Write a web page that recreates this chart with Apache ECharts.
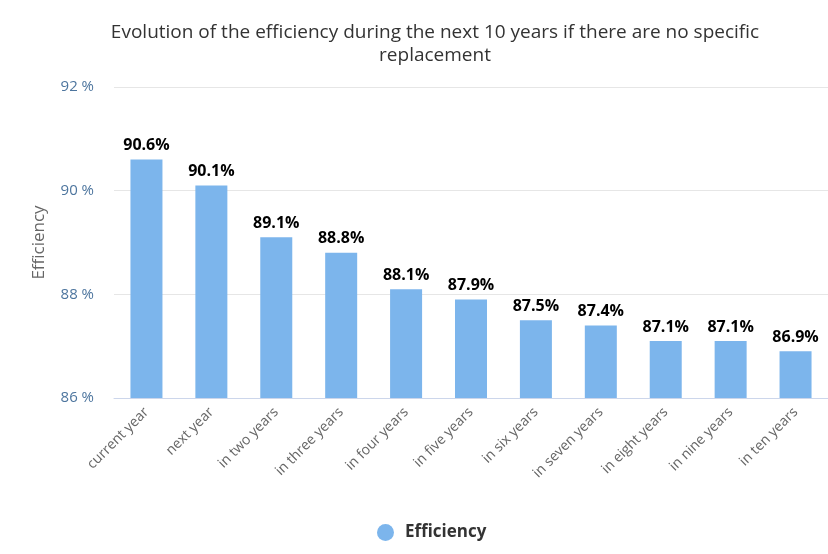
<!DOCTYPE html>
<html><head><meta charset="utf-8">
<script src="https://cdn.jsdelivr.net/npm/echarts@6/dist/echarts.min.js"></script>
<style>html,body{margin:0;padding:0;background:#fff}#c{width:828px;height:554px}</style>
</head><body><div id="c"></div>
<script>
const categories = ["current year","next year","in two years","in three years","in four years","in five years","in six years","in seven years","in eight years","in nine years","in ten years"];
const efficiency = [90.6, 90.1, 89.1, 88.8, 88.1, 87.9, 87.5, 87.4, 87.1, 87.1, 86.9];
const seriesName = "Efficiency";
const chart = echarts.init(document.getElementById('c'));
chart.setOption({
  animation: false,
  title: {
    text: "Evolution of the efficiency during the next 10 years if there are no specific\nreplacement",
    left: 430, top: 16, textAlign: 'center',
    textStyle: {fontFamily: 'Open Sans', fontSize: 19, fontWeight: 'normal', color: '#333', lineHeight: 23}
  },
  legend: {
    bottom: 8, left: 372, itemWidth: 17, itemHeight: 17, itemGap: 10, icon: 'circle',
    textStyle: {fontFamily: 'Open Sans', fontSize: 17, fontWeight: 'bold', color: '#333', padding: [0, 0, 0, 6]},
    data: [seriesName]
  },
  grid: {left: 114, right: -12, top: 87, bottom: 156},
  xAxis: {
    type: 'category', data: categories,
    axisLine: {lineStyle: {color: '#ccd6eb'}},
    axisTick: {show: false},
    axisLabel: {rotate: 45, fontFamily: 'Open Sans', fontSize: 14, color: '#666', margin: 12, interval: 0}
  },
  yAxis: {
    type: 'value', min: 86, max: 92, interval: 2,
    name: 'Efficiency', nameLocation: 'middle', nameGap: 66,
    nameTextStyle: {fontFamily: 'Open Sans', fontSize: 17, color: '#666'},
    axisLine: {show: false}, axisTick: {show: false},
    axisLabel: {formatter: '{value} %', fontFamily: 'Open Sans', fontSize: 15, color: '#4d759e', margin: 20},
    splitLine: {lineStyle: {color: '#e6e6e6'}}
  },
  series: [{
    name: seriesName, type: 'bar', data: efficiency, barWidth: 32,
    itemStyle: {color: '#7cb5ec'},
    label: {show: true, position: 'top', distance: 6, formatter: p => p.value.toFixed(1) + '%',
      fontFamily: 'Open Sans', fontSize: 16, fontWeight: 'bold', color: '#000'}
  }]
});
</script></body></html>
